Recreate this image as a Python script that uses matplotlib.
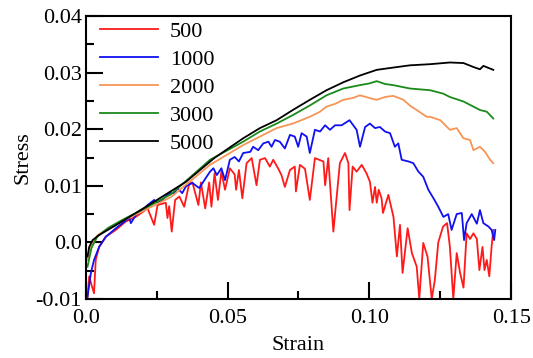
"""Stress-strain curves for several sample sizes."""

import matplotlib

matplotlib.use("Agg")
import matplotlib.pyplot as plt
from matplotlib.ticker import MultipleLocator

LABELS = ["500", "1000", "2000", "3000", "5000"]
COLORS = ["#ff1a1a", "#1010f0", "#f79556", "#1a8a1a", "#000000"]

# values (strain, stress)
strain_500 = [0.0006, 0.0012, 0.0020, 0.0029, 0.0035, 0.0047, 0.0070, 0.0106, 0.0141,
              0.0176, 0.0218, 0.0241, 0.0253, 0.0282, 0.0288, 0.0294, 0.0303, 0.0315,
              0.0330, 0.0347, 0.0365, 0.0376, 0.0397, 0.0406, 0.0421, 0.0435, 0.0443,
              0.0454, 0.0466, 0.0478, 0.0491, 0.0508, 0.0525, 0.0530, 0.0540, 0.0552,
              0.0567, 0.0585, 0.0602, 0.0614, 0.0632, 0.0649, 0.0661, 0.0679, 0.0690,
              0.0702, 0.0720, 0.0737, 0.0741, 0.0755, 0.0773, 0.0790, 0.0808, 0.0838,
              0.0844, 0.0855, 0.0873, 0.0896, 0.0914, 0.0926, 0.0930, 0.0941, 0.0955,
              0.0973, 0.0990, 0.1002, 0.1011, 0.1020, 0.1026, 0.1033, 0.1043, 0.1048,
              0.1067, 0.1085, 0.1097, 0.1108, 0.1117, 0.1135, 0.1150, 0.1167, 0.1176,
              0.1190, 0.1205, 0.1220, 0.1231, 0.1243, 0.1260, 0.1274, 0.1284, 0.1296,
              0.1308, 0.1320, 0.1332, 0.1343, 0.1355, 0.1367, 0.1379, 0.1388, 0.1399,
              0.1406, 0.1414, 0.1423, 0.1431, 0.1437]
stress_500 = [-0.0098, -0.0060, -0.0075, -0.0090, -0.0031, -0.0008, 0.0010, 0.0022, 0.0037,
              0.0045, 0.0060, 0.0031, 0.0066, 0.0070, 0.0043, 0.0064, 0.0019, 0.0075,
              0.0081, 0.0063, 0.0105, 0.0106, 0.0066, 0.0106, 0.0060, 0.0106, 0.0063,
              0.0122, 0.0075, 0.0125, 0.0093, 0.0131, 0.0120, 0.0093, 0.0128, 0.0078,
              0.0140, 0.0149, 0.0101, 0.0146, 0.0149, 0.0134, 0.0146, 0.0130, 0.0119,
              0.0098, 0.0128, 0.0134, 0.0090, 0.0137, 0.0130, 0.0075, 0.0149, 0.0143,
              0.0101, 0.0149, 0.0019, 0.0140, 0.0158, 0.0140, 0.0057, 0.0134, 0.0125,
              0.0137, 0.0122, 0.0107, 0.0070, 0.0098, 0.0070, 0.0093, 0.0078, 0.0052,
              0.0084, 0.0045, -0.0025, 0.0031, -0.0054, 0.0025, -0.0019, -0.0043, -0.0100,
              -0.0001, -0.0025, -0.0100, -0.0066, 0.0000, 0.0028, 0.0034, -0.0008, -0.0100,
              -0.0019, -0.0054, -0.0080, 0.0016, 0.0006, 0.0016, 0.0006, -0.0049, -0.0008,
              -0.0049, -0.0031, -0.0060, -0.0008, 0.0022]

strain_1000 = [0.0006, 0.0018, 0.0029, 0.0047, 0.0071, 0.0106, 0.0153, 0.0159, 0.0176,
               0.0206, 0.0218, 0.0241, 0.0253, 0.0270, 0.0294, 0.0312, 0.0323, 0.0340,
               0.0353, 0.0376, 0.0400, 0.0418, 0.0438, 0.0450, 0.0462, 0.0478, 0.0491,
               0.0508, 0.0525, 0.0540, 0.0555, 0.0580, 0.0590, 0.0608, 0.0626, 0.0644,
               0.0655, 0.0667, 0.0684, 0.0702, 0.0720, 0.0737, 0.0749, 0.0761, 0.0779,
               0.0790, 0.0808, 0.0826, 0.0844, 0.0861, 0.0879, 0.0902, 0.0930, 0.0955,
               0.0967, 0.0985, 0.1002, 0.1020, 0.1037, 0.1055, 0.1073, 0.1090, 0.1102,
               0.1114, 0.1138, 0.1155, 0.1173, 0.1190, 0.1208, 0.1226, 0.1243, 0.1261,
               0.1278, 0.1290, 0.1308, 0.1326, 0.1334, 0.1343, 0.1361, 0.1379, 0.1390,
               0.1402, 0.1420, 0.1431, 0.1440, 0.1444]
stress_1000 = [-0.0096, -0.0054, -0.0031, -0.0008, 0.0010, 0.0025, 0.0043, 0.0034, 0.0048,
               0.0060, 0.0066, 0.0075, 0.0070, 0.0075, 0.0087, 0.0087, 0.0096, 0.0087,
               0.0099, 0.0105, 0.0096, 0.0110, 0.0125, 0.0131, 0.0119, 0.0131, 0.0110,
               0.0146, 0.0151, 0.0143, 0.0158, 0.0160, 0.0169, 0.0163, 0.0175, 0.0178,
               0.0169, 0.0181, 0.0178, 0.0166, 0.0190, 0.0187, 0.0169, 0.0193, 0.0187,
               0.0158, 0.0199, 0.0196, 0.0207, 0.0199, 0.0207, 0.0207, 0.0216, 0.0199,
               0.0169, 0.0204, 0.0210, 0.0202, 0.0204, 0.0196, 0.0193, 0.0169, 0.0175,
               0.0146, 0.0143, 0.0140, 0.0125, 0.0116, 0.0093, 0.0078, 0.0063, 0.0045,
               0.0050, 0.0022, 0.0050, 0.0052, 0.0004, 0.0034, 0.0050, 0.0033, 0.0057,
               0.0034, 0.0028, 0.0022, 0.0004, 0.0022]

strain_2000 = [0.0006, 0.0020, 0.0040, 0.0080, 0.0130, 0.0200, 0.0300, 0.0438, 0.0555,
               0.0614, 0.0673, 0.0730, 0.0790, 0.0826, 0.0849, 0.0880, 0.0908, 0.0940,
               0.0967, 0.1002, 0.1026, 0.1055, 0.1084, 0.1100, 0.1120, 0.1145, 0.1167,
               0.1202, 0.1214, 0.1250, 0.1284, 0.1308, 0.1332, 0.1355, 0.1367, 0.1390,
               0.1408, 0.1426, 0.1437]
stress_2000 = [-0.0031, -0.0005, 0.0012, 0.0025, 0.0038, 0.0055, 0.0080, 0.0137, 0.0172,
               0.0187, 0.0202, 0.0210, 0.0222, 0.0231, 0.0240, 0.0245, 0.0252, 0.0255,
               0.0260, 0.0255, 0.0252, 0.0257, 0.0259, 0.0256, 0.0252, 0.0241, 0.0234,
               0.0222, 0.0222, 0.0216, 0.0199, 0.0202, 0.0184, 0.0181, 0.0163, 0.0169,
               0.0160, 0.0146, 0.0140]

strain_3000 = [0.0006, 0.0020, 0.0040, 0.0080, 0.0130, 0.0200, 0.0300, 0.0438, 0.0555,
               0.0614, 0.0673, 0.0730, 0.0790, 0.0849, 0.0908, 0.0967, 0.1000, 0.1026,
               0.1055, 0.1084, 0.1143, 0.1214, 0.1260, 0.1284, 0.1332, 0.1367, 0.1390,
               0.1414, 0.1437]
stress_3000 = [-0.0043, -0.0010, 0.0010, 0.0026, 0.0040, 0.0058, 0.0085, 0.0146, 0.0178,
               0.0196, 0.0210, 0.0225, 0.0242, 0.0260, 0.0272, 0.0278, 0.0281, 0.0285,
               0.0280, 0.0278, 0.0272, 0.0269, 0.0263, 0.0257, 0.0249, 0.0240, 0.0234,
               0.0231, 0.0219]

strain_5000 = [0.0006, 0.0012, 0.0024, 0.0047, 0.0118, 0.0235, 0.0353, 0.0453, 0.0555,
               0.0614, 0.0673, 0.0730, 0.0790, 0.0849, 0.0908, 0.0967, 0.1026, 0.1084,
               0.1143, 0.1214, 0.1284, 0.1332, 0.1367, 0.1390, 0.1402, 0.1437]
stress_5000 = [-0.0025, -0.0008, 0.0004, 0.0013, 0.0034, 0.0070, 0.0107, 0.0149, 0.0184,
               0.0202, 0.0216, 0.0234, 0.0252, 0.0269, 0.0283, 0.0295, 0.0305, 0.0309,
               0.0313, 0.0315, 0.0318, 0.0317, 0.0310, 0.0306, 0.0312, 0.0305]

SERIES = [
    (strain_500, stress_500),
    (strain_1000, stress_1000),
    (strain_2000, stress_2000),
    (strain_3000, stress_3000),
    (strain_5000, stress_5000),
]


def main() -> None:
    plt.rcParams.update(
        {
            "font.family": "Liberation Serif",
            "font.size": 16,
            "axes.linewidth": 1.5,
        }
    )
    fig = plt.figure(figsize=(5.33, 3.58), dpi=100)
    ax = fig.add_axes([0.161, 0.165, 0.798, 0.79])

    for (xs, ys), label, color in zip(SERIES, LABELS, COLORS):
        ax.plot(xs, ys, color=color, lw=1.3, label=label)

    ax.set_xlim(0.0, 0.15)
    ax.set_ylim(-0.01, 0.04)
    ax.set_xticks([0.0, 0.05, 0.10, 0.15], ["0.0", "0.05", "0.10", "0.15"])
    ax.set_yticks([-0.01, 0.0, 0.01, 0.02, 0.03, 0.04],
                  ["-0.01", "0.0", "0.01", "0.02", "0.03", "0.04"])
    ax.xaxis.set_minor_locator(MultipleLocator(0.025))
    ax.yaxis.set_minor_locator(MultipleLocator(0.005))
    ax.tick_params(which="major", direction="in", length=12, width=1.5)
    ax.tick_params(axis="x", which="major", pad=7)
    ax.tick_params(axis="y", which="major", pad=3)
    ax.tick_params(which="minor", direction="in", length=6, width=1.5)
    ax.tick_params(top=False, right=False, which="both")

    ax.set_xlabel("Strain", labelpad=6)
    ax.set_ylabel("Stress", labelpad=2)

    ax.legend(loc="upper left", frameon=False, handlelength=2.6, handletextpad=0.55,
              labelspacing=0.33, borderaxespad=0.0, borderpad=0.25, fontsize=16,
              bbox_to_anchor=(0.02, 1.0))

    fig.savefig("out.png", dpi=100)


if __name__ == "__main__":
    main()
